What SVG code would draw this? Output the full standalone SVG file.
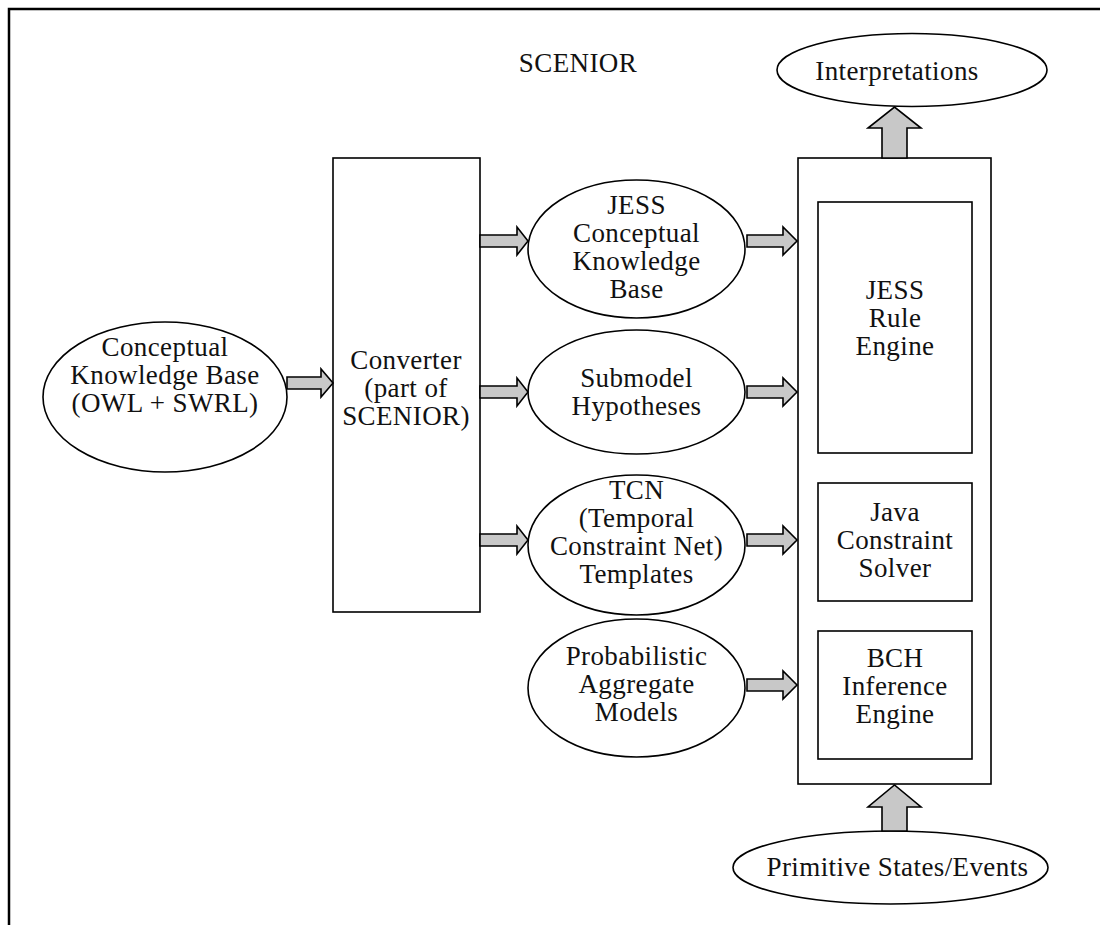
<svg xmlns="http://www.w3.org/2000/svg" width="1100" height="925" viewBox="0 0 1100 925">
  <style>
    .frame { fill: none; stroke: #000; stroke-width: 2.5; }
    .shape { fill: #fff; stroke: #000; stroke-width: 1.6; }
    .arrow { fill: #c8c8c8; stroke: #000; stroke-width: 1.6; stroke-linejoin: miter; }
    text { font-family: "Liberation Serif", "Times New Roman", serif; font-size: 27px; letter-spacing: 0.4px; fill: #111; text-anchor: middle; }
  </style>
  <rect width="1100" height="925" fill="#fff"/>

  <!-- page border (top and left edges) -->
  <path class="frame" d="M9,925 V9 H1100"/>

  <text id="title" x="578" y="72">SCENIOR</text>

  <g id="conceptual-kb">
    <ellipse class="shape" cx="165" cy="397" rx="122" ry="75"/>
    <text x="165" y="356">Conceptual</text>
    <text x="165" y="384">Knowledge Base</text>
    <text x="165" y="412">(OWL + SWRL)</text>
  </g>

  <g id="converter">
    <rect class="shape" x="333" y="158" width="147" height="454"/>
    <text x="406" y="369">Converter</text>
    <text x="406" y="397">(part of</text>
    <text x="406" y="425">SCENIOR)</text>
  </g>

  <g id="jess-kb">
    <ellipse class="shape" cx="636.5" cy="249" rx="108.5" ry="69"/>
    <text x="636.5" y="214">JESS</text>
    <text x="636.5" y="242">Conceptual</text>
    <text x="636.5" y="270">Knowledge</text>
    <text x="636.5" y="298">Base</text>
  </g>

  <g id="submodel">
    <ellipse class="shape" cx="636.5" cy="392" rx="108.5" ry="62"/>
    <text x="636.5" y="387">Submodel</text>
    <text x="636.5" y="415">Hypotheses</text>
  </g>

  <g id="tcn">
    <ellipse class="shape" cx="636.5" cy="545" rx="108.5" ry="70"/>
    <text x="636.5" y="499">TCN</text>
    <text x="636.5" y="527">(Temporal</text>
    <text x="636.5" y="555">Constraint Net)</text>
    <text x="636.5" y="583">Templates</text>
  </g>

  <g id="probabilistic">
    <ellipse class="shape" cx="636.5" cy="688" rx="108.5" ry="69"/>
    <text x="636.5" y="665">Probabilistic</text>
    <text x="636.5" y="693">Aggregate</text>
    <text x="636.5" y="721">Models</text>
  </g>

  <g id="scenior-core">
    <rect class="shape" x="798" y="158" width="193" height="626"/>
  </g>

  <g id="jess-engine">
    <rect class="shape" x="818" y="202" width="154" height="251"/>
    <text x="895" y="299">JESS</text>
    <text x="895" y="327">Rule</text>
    <text x="895" y="355">Engine</text>
  </g>

  <g id="java-solver">
    <rect class="shape" x="818" y="483" width="154" height="118"/>
    <text x="895" y="521">Java</text>
    <text x="895" y="549">Constraint</text>
    <text x="895" y="577">Solver</text>
  </g>

  <g id="bch-engine">
    <rect class="shape" x="818" y="631" width="154" height="128"/>
    <text x="895" y="667">BCH</text>
    <text x="895" y="695">Inference</text>
    <text x="895" y="723">Engine</text>
  </g>

  <g id="interpretations">
    <ellipse class="shape" cx="912" cy="70" rx="135" ry="36.5"/>
    <text x="897" y="80">Interpretations</text>
  </g>

  <g id="primitive-events">
    <ellipse class="shape" cx="890.5" cy="867.5" rx="157.5" ry="36.5"/>
    <text x="897.5" y="876">Primitive States/Events</text>
  </g>

  <g id="connectors">
    <!-- block arrows pointing right -->
    <polygon class="arrow" points="287,377 321,377 321,369 333,383 321,397 321,389 287,389"/>
    <polygon class="arrow" points="480,235 517,235 517,227 528,241 517,255 517,247 480,247"/>
    <polygon class="arrow" points="480,386 517,386 517,378 528,392 517,406 517,398 480,398"/>
    <polygon class="arrow" points="480,534 517,534 517,526 528,540 517,554 517,546 480,546"/>
    <polygon class="arrow" points="747,235 783,235 783,227 797,241 783,255 783,247 747,247"/>
    <polygon class="arrow" points="747,386 783,386 783,378 797,392 783,406 783,398 747,398"/>
    <polygon class="arrow" points="747,534 783,534 783,526 797,540 783,554 783,546 747,546"/>
    <polygon class="arrow" points="747,679 783,679 783,671 797,685 783,699 783,691 747,691"/>
    <!-- block arrows pointing up -->
    <polygon class="arrow" points="882,158 882,128 868,128 894.5,107 921,128 907,128 907,158"/>
    <polygon class="arrow" points="882,831 882,807 868,807 894.5,785 921,807 907,807 907,831"/>
  </g>
</svg>
